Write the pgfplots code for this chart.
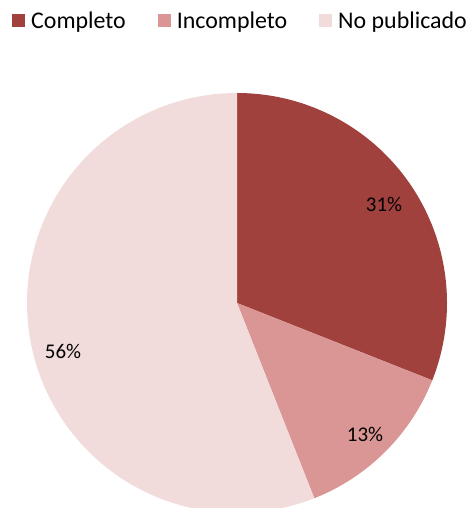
\documentclass[border=0pt]{standalone}
\usepackage{pgfplots}
\pgfplotsset{compat=1.18}
\usepackage{fontspec}
\setmainfont{Carlito}
\definecolor{cA}{HTML}{A0413E}
\definecolor{cB}{HTML}{D99694}
\definecolor{cC}{HTML}{F2DCDB}
\begin{document}
\begin{tikzpicture}
\begin{axis}[
  scale only axis, width=473bp, height=508bp,
  xmin=0, xmax=473, ymin=0, ymax=508,
  hide axis, clip=true,
  legend columns=3,
  legend style={at={(axis cs:12,487.5)}, anchor=west, draw=none, fill=none,
    font=\fontsize{24}{28}\selectfont, inner xsep=0bp, inner ysep=0bp,
    /tikz/every odd column/.append style={column sep=4bp},
    /tikz/every even column/.append style={column sep=30bp}},
  legend image code/.code={\fill[#1] (0bp,-6.5bp) rectangle (13bp,6.5bp);},
]
% percentages: Completo 31, Incompleto 13, No publicado 56
\addplot[fill=cA, draw=none, domain={90-3.6*31}:90, samples=120, variable=\t]
  ({237+210*cos(\t)}, {205+210*sin(\t)}) -- (axis cs:237,205) -- cycle;
\addlegendentry{Completo}
\addplot[fill=cB, draw=none, domain={90-3.6*44}:{90-3.6*31}, samples=60, variable=\t]
  ({237+210*cos(\t)}, {205+210*sin(\t)}) -- (axis cs:237,205) -- cycle;
\addlegendentry{Incompleto}
\addplot[fill=cC, draw=none, domain={90-3.6*100}:{90-3.6*44}, samples=200, variable=\t]
  ({237+210*cos(\t)}, {205+210*sin(\t)}) -- (axis cs:237,205) -- cycle;
\addlegendentry{No publicado}
\node[font=\fontsize{21}{25}\selectfont] at (axis cs:384,304) {31\%};
\node[font=\fontsize{21}{25}\selectfont] at (axis cs:365,74) {13\%};
\node[font=\fontsize{21}{25}\selectfont] at (axis cs:63,157) {56\%};
\end{axis}
\pgfresetboundingbox
\path (current axis.south west) rectangle (current axis.north east);
\end{tikzpicture}
\end{document}
